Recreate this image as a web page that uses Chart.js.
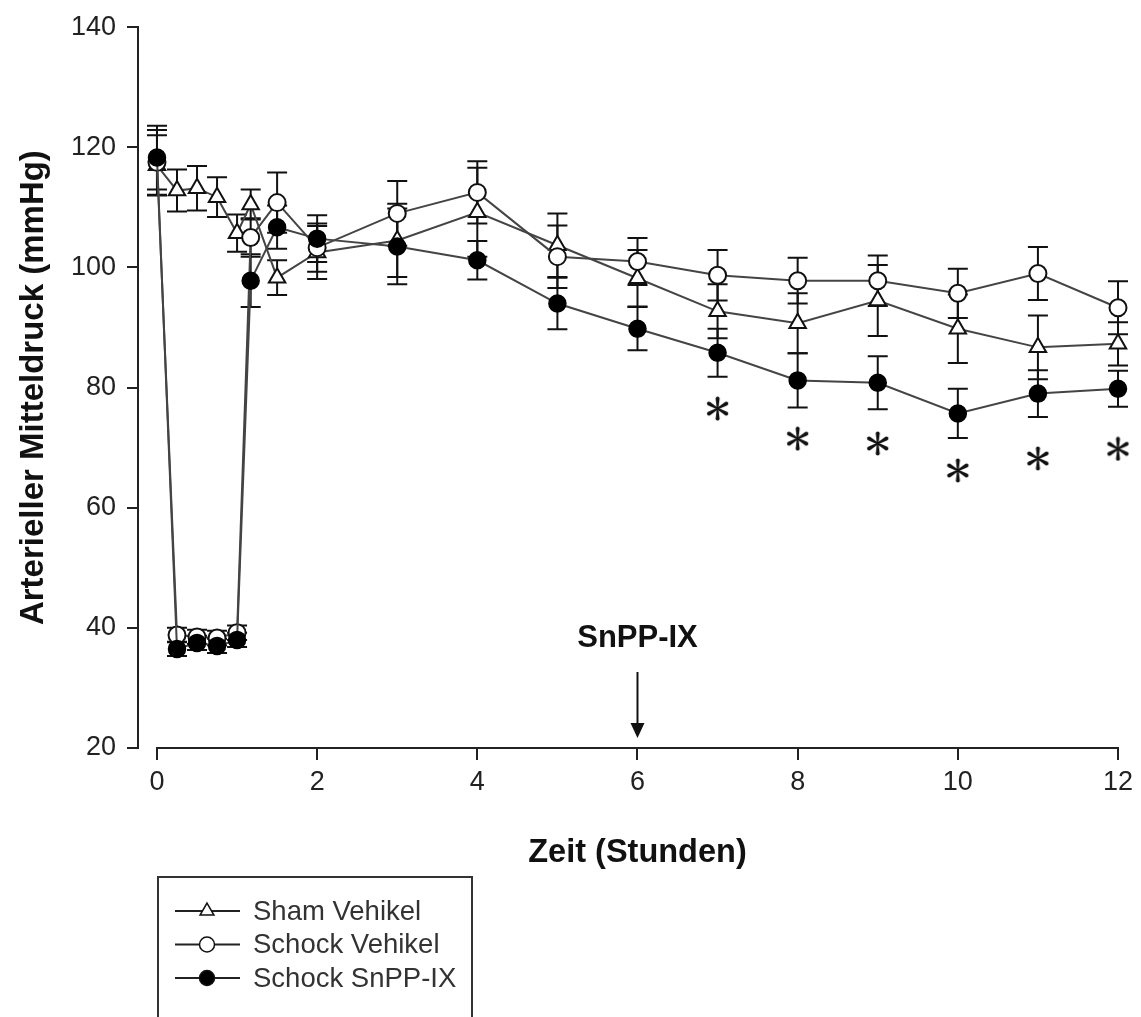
<!DOCTYPE html>
<html>
<head>
<meta charset="utf-8">
<script src="https://cdn.jsdelivr.net/npm/chart.js@4.4.1/dist/chart.umd.min.js"></script>
<style>
  html, body { margin: 0; padding: 0; background: #fff; }
  canvas { display: block; }
</style>
</head>
<body>
<canvas id="mapChart" width="1141" height="1017"></canvas>
<script>
// Zeitpunkte (Stunden)
const zeit = [0, 0.25, 0.5, 0.75, 1, 1.17, 1.5, 2, 3, 4, 5, 6, 7, 8, 9, 10, 11, 12];

const shamVehikel    = [117, 112.8, 113.2, 111.7, 105.7, 110.5, 98.3, 102.5, 104.5, 109.2, 103.7, 98.2, 92.7, 90.7, 94.5, 89.8, 86.7, 87.3];
const shamVehikelSem = [5, 3.5, 3.7, 3.3, 3.1, 2.5, 2.9, 4.4, 6.1, 7.4, 5.3, 4.7, 4.5, 5, 5.9, 5.7, 5.3, 3.6];

const schockVehikel    = [117.5, 38.8, 38.5, 38.3, 39.2, 105, 110.8, 103.3, 109, 112.5, 101.8, 101, 98.7, 97.8, 97.8, 95.7, 99, 93.3];
const schockVehikelSem = [5.4, 1.2, 1.2, 1.2, 1.2, 3.2, 5, 4, 5.4, 5.2, 5.2, 3.9, 4.2, 3.8, 4.2, 4.1, 4.4, 4.4];

const schockSnpp    = [118.3, 36.5, 37.5, 37, 38, 97.8, 106.7, 104.8, 103.5, 101.2, 94, 89.8, 85.8, 81.2, 80.8, 75.7, 79, 79.8];
const schockSnppSem = [5.3, 1.2, 1.2, 1.2, 1.2, 4.4, 3.6, 3.9, 6.3, 3.2, 4.3, 3.6, 4, 4.5, 4.4, 4.1, 3.9, 3];

// Signifikanz-Sterne
const sternZeit = [7, 8, 9, 10, 11, 12];
const sternWert = [76.5, 71.5, 70.7, 66.2, 68.2, 69.8];

const xTicks = [0, 2, 4, 6, 8, 10, 12];
const snppGabe = 6; // Zeitpunkt SnPP-IX

const FONT = '"Liberation Sans", Arial, sans-serif';
Chart.defaults.font.family = FONT;
Chart.defaults.color = '#222';

function toPoints(values) {
    return values.map((v, i) => ({ x: zeit[i], y: v }));
}

function makeAsterisk(size) {
    const c = document.createElement('canvas');
    c.width = size;
    c.height = size;
    const g = c.getContext('2d');
    g.translate(size / 2, size / 2);
    g.fillStyle = '#111';
    const r = size / 2 - 2.5;
    for (let i = 0; i < 6; i++) {
        g.save();
        g.rotate(i * Math.PI / 3);
        g.beginPath();
        g.moveTo(-0.8, 0);
        g.lineTo(-2, -r);
        g.arc(0, -r, 2, Math.PI, 0);
        g.lineTo(0.8, 0);
        g.closePath();
        g.fill();
        g.restore();
    }
    return c;
}

const errorBars = {
    id: 'errorBars',
    beforeDatasetsDraw(chart) {
        const { ctx, scales: { x, y } } = chart;
        ctx.save();
        ctx.strokeStyle = '#111';
        ctx.lineWidth = 2;
        chart.data.datasets.forEach(ds => {
            if (!ds.sem) return;
            ds.data.forEach((p, j) => {
                const px = x.getPixelForValue(p.x);
                const top = y.getPixelForValue(p.y + ds.sem[j]);
                const bot = y.getPixelForValue(p.y - ds.sem[j]);
                ctx.beginPath();
                ctx.moveTo(px, top); ctx.lineTo(px, bot);
                ctx.moveTo(px - 10, top); ctx.lineTo(px + 10, top);
                ctx.moveTo(px - 10, bot); ctx.lineTo(px + 10, bot);
                ctx.stroke();
            });
        });
        ctx.restore();
    }
};

const extras = {
    id: 'extras',
    afterDraw(chart) {
        const { ctx, chartArea, scales: { x, y } } = chart;
        const x0 = x.getPixelForValue(xTicks[0]);
        const x1 = x.getPixelForValue(xTicks[xTicks.length - 1]);
        ctx.save();
        // x-Achse nur von 0 bis 12
        ctx.strokeStyle = '#222';
        ctx.lineWidth = 2;
        ctx.beginPath();
        ctx.moveTo(x0 - 1, chartArea.bottom);
        ctx.lineTo(x1 + 1, chartArea.bottom);
        ctx.stroke();

        // Achsentitel x
        ctx.fillStyle = '#111';
        ctx.font = 'bold 32.5px ' + FONT;
        ctx.textAlign = 'center';
        ctx.textBaseline = 'middle';
        ctx.fillText('Zeit (Stunden)', (x0 + x1) / 2, 853);

        // SnPP-IX Pfeil
        const ax = x.getPixelForValue(snppGabe);
        ctx.font = 'bold 31px ' + FONT;
        ctx.fillText('SnPP-IX', ax, 638);
        ctx.strokeStyle = '#111';
        ctx.beginPath();
        ctx.moveTo(ax, 672);
        ctx.lineTo(ax, 726);
        ctx.stroke();
        ctx.beginPath();
        ctx.moveTo(ax - 7, 723);
        ctx.lineTo(ax + 7, 723);
        ctx.lineTo(ax, 738);
        ctx.closePath();
        ctx.fill();

        // Legende
        const left = 158, top = 877, right = 472;
        ctx.strokeStyle = '#333';
        ctx.lineWidth = 2;
        ctx.beginPath();
        ctx.moveTo(left, chart.height + 2);
        ctx.lineTo(left, top);
        ctx.lineTo(right, top);
        ctx.lineTo(right, chart.height + 2);
        ctx.stroke();

        const entries = chart.data.datasets.filter(ds => ds.sem).reverse();
        entries.forEach((ds, k) => {
            const cy = 911 + k * 33.5;
            ctx.strokeStyle = '#222';
            ctx.lineWidth = 2;
            ctx.beginPath();
            ctx.moveTo(175, cy);
            ctx.lineTo(240, cy);
            ctx.stroke();
            ctx.fillStyle = ds.pointBackgroundColor;
            ctx.strokeStyle = '#111';
            ctx.lineWidth = 1.5;
            Chart.helpers.drawPoint(ctx, {
                pointStyle: ds.pointStyle,
                radius: ds.pointStyle === 'triangle' ? 8 : 7.5,
                borderWidth: 1.5,
                rotation: 0
            }, 207, cy);
            ctx.fillStyle = '#333';
            ctx.font = '27.5px ' + FONT;
            ctx.textAlign = 'left';
            ctx.textBaseline = 'middle';
            ctx.fillText(ds.label, 253, cy + 1);
        });
        ctx.restore();
    }
};

const ctx = document.getElementById('mapChart').getContext('2d');
new Chart(ctx, {
    type: 'line',
    data: {
        datasets: [
            {
                label: 'Stern',
                data: sternZeit.map((t, i) => ({ x: t, y: sternWert[i] })),
                showLine: false,
                pointStyle: makeAsterisk(25),
                pointRadius: 12.5,
                clip: false,
                order: 0
            },
            {
                label: 'Schock SnPP-IX',
                data: toPoints(schockSnpp),
                sem: schockSnppSem,
                borderColor: '#444',
                borderWidth: 2,
                pointStyle: 'circle',
                pointRadius: 8.5,
                pointBackgroundColor: '#000',
                pointBorderColor: '#000',
                pointBorderWidth: 1.5,
                clip: false,
                order: 1
            },
            {
                label: 'Schock Vehikel',
                data: toPoints(schockVehikel),
                sem: schockVehikelSem,
                borderColor: '#444',
                borderWidth: 2,
                pointStyle: 'circle',
                pointRadius: 8.5,
                pointBackgroundColor: '#fff',
                pointBorderColor: '#111',
                pointBorderWidth: 2,
                clip: false,
                order: 2
            },
            {
                label: 'Sham Vehikel',
                data: toPoints(shamVehikel),
                sem: shamVehikelSem,
                borderColor: '#444',
                borderWidth: 2,
                pointStyle: 'triangle',
                pointRadius: 9.5,
                pointBackgroundColor: '#fff',
                pointBorderColor: '#111',
                pointBorderWidth: 2,
                clip: false,
                order: 3
            }
        ]
    },
    options: {
        responsive: false,
        animation: false,
        layout: { padding: { left: 0, top: 27, right: 23, bottom: 139 } },
        plugins: { legend: { display: false }, tooltip: { enabled: false } },
        scales: {
            x: {
                type: 'linear',
                min: -0.237,
                max: 12,
                afterBuildTicks: scale => { scale.ticks = xTicks.map(v => ({ value: v })); },
                afterFit: scale => { scale.height = 130; },
                border: { display: false },
                grid: { drawOnChartArea: false, tickLength: 12, color: '#222', lineWidth: 2 },
                ticks: { font: { size: 27 }, padding: 6, maxRotation: 0, color: '#222' },
                title: { display: false }
            },
            y: {
                min: 20,
                max: 140,
                afterFit: scale => { scale.width = 138; },
                border: { display: true, color: '#222', width: 2 },
                grid: { drawOnChartArea: false, tickLength: 11, color: '#222', lineWidth: 2 },
                ticks: { stepSize: 20, font: { size: 27 }, padding: 11, color: '#222' },
                title: {
                    display: true,
                    text: 'Arterieller Mitteldruck (mmHg)',
                    font: { size: 33, weight: 'bold' },
                    color: '#111',
                    padding: { top: 14, bottom: 0 }
                }
            }
        }
    },
    plugins: [errorBars, extras]
});
</script>
</body>
</html>
